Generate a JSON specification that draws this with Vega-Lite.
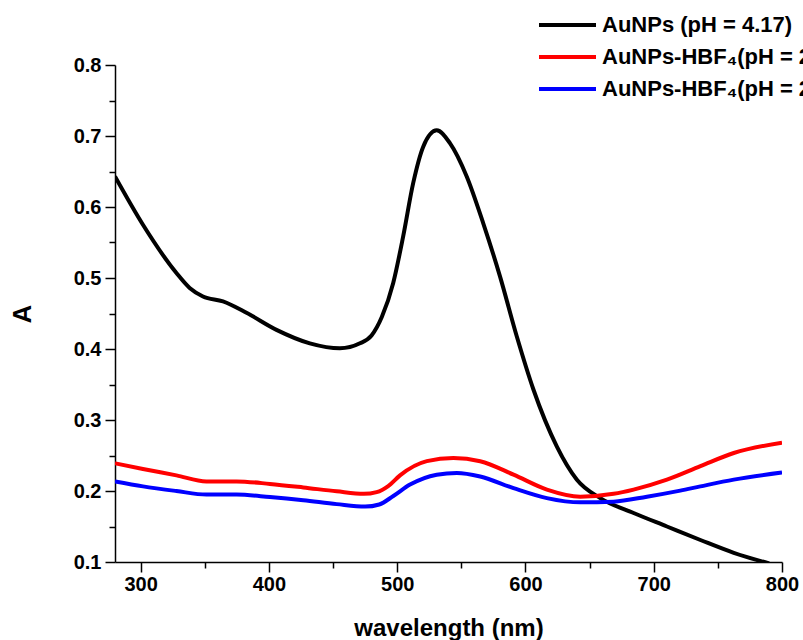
{
  "$schema": "https://vega.github.io/schema/vega-lite/v6.json",
  "width": 667,
  "height": 497,
  "autosize": {"type": "none"},
  "padding": {"left": 115, "top": 65, "right": 21, "bottom": 78},
  "background": "white",
  "config": {
    "view": {"stroke": null},
    "font": "Liberation Sans"
  },
  "data": {
    "values": [
      {"s": "AuNPs (pH = 4.17)", "wl": 280, "A": 0.643},
      {"s": "AuNPs (pH = 4.17)", "wl": 301.8, "A": 0.575},
      {"s": "AuNPs (pH = 4.17)", "wl": 327.9, "A": 0.507},
      {"s": "AuNPs (pH = 4.17)", "wl": 338.2, "A": 0.486},
      {"s": "AuNPs (pH = 4.17)", "wl": 348.6, "A": 0.474},
      {"s": "AuNPs (pH = 4.17)", "wl": 364.2, "A": 0.467},
      {"s": "AuNPs (pH = 4.17)", "wl": 382.5, "A": 0.451},
      {"s": "AuNPs (pH = 4.17)", "wl": 405.9, "A": 0.427},
      {"s": "AuNPs (pH = 4.17)", "wl": 431.9, "A": 0.408},
      {"s": "AuNPs (pH = 4.17)", "wl": 455.3, "A": 0.401},
      {"s": "AuNPs (pH = 4.17)", "wl": 471, "A": 0.408},
      {"s": "AuNPs (pH = 4.17)", "wl": 480, "A": 0.419},
      {"s": "AuNPs (pH = 4.17)", "wl": 488, "A": 0.445},
      {"s": "AuNPs (pH = 4.17)", "wl": 496.9, "A": 0.493},
      {"s": "AuNPs (pH = 4.17)", "wl": 504.7, "A": 0.559},
      {"s": "AuNPs (pH = 4.17)", "wl": 512.5, "A": 0.634},
      {"s": "AuNPs (pH = 4.17)", "wl": 520.3, "A": 0.685},
      {"s": "AuNPs (pH = 4.17)", "wl": 530.8, "A": 0.708},
      {"s": "AuNPs (pH = 4.17)", "wl": 541.1, "A": 0.69},
      {"s": "AuNPs (pH = 4.17)", "wl": 554.2, "A": 0.643},
      {"s": "AuNPs (pH = 4.17)", "wl": 567.1, "A": 0.577},
      {"s": "AuNPs (pH = 4.17)", "wl": 580.2, "A": 0.502},
      {"s": "AuNPs (pH = 4.17)", "wl": 593.2, "A": 0.418},
      {"s": "AuNPs (pH = 4.17)", "wl": 606.2, "A": 0.343},
      {"s": "AuNPs (pH = 4.17)", "wl": 624.4, "A": 0.263},
      {"s": "AuNPs (pH = 4.17)", "wl": 640.1, "A": 0.216},
      {"s": "AuNPs (pH = 4.17)", "wl": 658.3, "A": 0.19},
      {"s": "AuNPs (pH = 4.17)", "wl": 684.3, "A": 0.169},
      {"s": "AuNPs (pH = 4.17)", "wl": 710.3, "A": 0.15},
      {"s": "AuNPs (pH = 4.17)", "wl": 736.4, "A": 0.131},
      {"s": "AuNPs (pH = 4.17)", "wl": 762.4, "A": 0.113},
      {"s": "AuNPs (pH = 4.17)", "wl": 790, "A": 0.098},
      {"s": "AuNPs-HBF₄(pH = 2.50)", "wl": 280, "A": 0.239},
      {"s": "AuNPs-HBF₄(pH = 2.50)", "wl": 301.8, "A": 0.231},
      {"s": "AuNPs-HBF₄(pH = 2.50)", "wl": 327.9, "A": 0.222},
      {"s": "AuNPs-HBF₄(pH = 2.50)", "wl": 351.3, "A": 0.2135},
      {"s": "AuNPs-HBF₄(pH = 2.50)", "wl": 374.7, "A": 0.2135},
      {"s": "AuNPs-HBF₄(pH = 2.50)", "wl": 400.8, "A": 0.21},
      {"s": "AuNPs-HBF₄(pH = 2.50)", "wl": 426.8, "A": 0.205},
      {"s": "AuNPs-HBF₄(pH = 2.50)", "wl": 452.8, "A": 0.1995},
      {"s": "AuNPs-HBF₄(pH = 2.50)", "wl": 474, "A": 0.196},
      {"s": "AuNPs-HBF₄(pH = 2.50)", "wl": 484, "A": 0.1985},
      {"s": "AuNPs-HBF₄(pH = 2.50)", "wl": 493, "A": 0.207},
      {"s": "AuNPs-HBF₄(pH = 2.50)", "wl": 502.2, "A": 0.222},
      {"s": "AuNPs-HBF₄(pH = 2.50)", "wl": 523.1, "A": 0.242},
      {"s": "AuNPs-HBF₄(pH = 2.50)", "wl": 543.8, "A": 0.2465},
      {"s": "AuNPs-HBF₄(pH = 2.50)", "wl": 564.7, "A": 0.242},
      {"s": "AuNPs-HBF₄(pH = 2.50)", "wl": 590.7, "A": 0.223},
      {"s": "AuNPs-HBF₄(pH = 2.50)", "wl": 616.7, "A": 0.202},
      {"s": "AuNPs-HBF₄(pH = 2.50)", "wl": 642.7, "A": 0.192},
      {"s": "AuNPs-HBF₄(pH = 2.50)", "wl": 668.7, "A": 0.196},
      {"s": "AuNPs-HBF₄(pH = 2.50)", "wl": 684.3, "A": 0.202},
      {"s": "AuNPs-HBF₄(pH = 2.50)", "wl": 710.3, "A": 0.216},
      {"s": "AuNPs-HBF₄(pH = 2.50)", "wl": 736.4, "A": 0.235},
      {"s": "AuNPs-HBF₄(pH = 2.50)", "wl": 762.4, "A": 0.2535},
      {"s": "AuNPs-HBF₄(pH = 2.50)", "wl": 800, "A": 0.268},
      {"s": "AuNPs-HBF₄(pH = 2.00)", "wl": 280, "A": 0.2135},
      {"s": "AuNPs-HBF₄(pH = 2.00)", "wl": 301.8, "A": 0.2065},
      {"s": "AuNPs-HBF₄(pH = 2.00)", "wl": 327.9, "A": 0.2},
      {"s": "AuNPs-HBF₄(pH = 2.00)", "wl": 351.3, "A": 0.195},
      {"s": "AuNPs-HBF₄(pH = 2.00)", "wl": 374.7, "A": 0.195},
      {"s": "AuNPs-HBF₄(pH = 2.00)", "wl": 400.8, "A": 0.1915},
      {"s": "AuNPs-HBF₄(pH = 2.00)", "wl": 426.8, "A": 0.187},
      {"s": "AuNPs-HBF₄(pH = 2.00)", "wl": 452.8, "A": 0.1815},
      {"s": "AuNPs-HBF₄(pH = 2.00)", "wl": 475, "A": 0.178},
      {"s": "AuNPs-HBF₄(pH = 2.00)", "wl": 486, "A": 0.181},
      {"s": "AuNPs-HBF₄(pH = 2.00)", "wl": 497, "A": 0.193},
      {"s": "AuNPs-HBF₄(pH = 2.00)", "wl": 510, "A": 0.209},
      {"s": "AuNPs-HBF₄(pH = 2.00)", "wl": 530.8, "A": 0.223},
      {"s": "AuNPs-HBF₄(pH = 2.00)", "wl": 546.5, "A": 0.2255},
      {"s": "AuNPs-HBF₄(pH = 2.00)", "wl": 564.7, "A": 0.2205},
      {"s": "AuNPs-HBF₄(pH = 2.00)", "wl": 590.7, "A": 0.204},
      {"s": "AuNPs-HBF₄(pH = 2.00)", "wl": 616.7, "A": 0.19},
      {"s": "AuNPs-HBF₄(pH = 2.00)", "wl": 642.7, "A": 0.184},
      {"s": "AuNPs-HBF₄(pH = 2.00)", "wl": 668.7, "A": 0.185},
      {"s": "AuNPs-HBF₄(pH = 2.00)", "wl": 694.7, "A": 0.192},
      {"s": "AuNPs-HBF₄(pH = 2.00)", "wl": 720.7, "A": 0.2005},
      {"s": "AuNPs-HBF₄(pH = 2.00)", "wl": 736.4, "A": 0.2065},
      {"s": "AuNPs-HBF₄(pH = 2.00)", "wl": 762.4, "A": 0.216},
      {"s": "AuNPs-HBF₄(pH = 2.00)", "wl": 800, "A": 0.226}
    ]
  },
  "mark": {"type": "line", "strokeWidth": 4, "interpolate": "monotone", "clip": true},
  "encoding": {
    "x": {
      "field": "wl", "type": "quantitative",
      "scale": {"domain": [280, 800], "nice": false, "zero": false},
      "axis": {
        "title": "wavelength (nm)",
        "values": [300, 350, 400, 450, 500, 550, 600, 650, 700, 750, 800],
        "labelExpr": "datum.value % 100 === 0 ? datum.label : ''",
        "tickSize": {"condition": {"test": "datum.value % 100 === 0", "value": 10}, "value": 6},
        "grid": false,
        "domainColor": "black", "domainWidth": 1.5,
        "tickColor": "black", "tickWidth": 1.5,
        "labelFont": "Liberation Sans", "labelFontWeight": "bold", "labelFontSize": 20, "labelColor": "black",
        "labelPadding": 2, "labelFlush": false,
        "titleFont": "Liberation Sans", "titleFontWeight": "bold", "titleFontSize": 24, "titleColor": "black",
        "titlePadding": 22
      }
    },
    "y": {
      "field": "A", "type": "quantitative",
      "scale": {"domain": [0.1, 0.8], "nice": false, "zero": false},
      "axis": {
        "title": "A",
        "values": [0.1, 0.15, 0.2, 0.25, 0.3, 0.35, 0.4, 0.45, 0.5, 0.55, 0.6, 0.65, 0.7, 0.75, 0.8],
        "format": ".1f",
        "labelExpr": "round(datum.value * 100) % 10 === 0 ? datum.label : ''",
        "tickSize": {"condition": {"test": "round(datum.value * 100) % 10 === 0", "value": 10}, "value": 6},
        "grid": false,
        "domainColor": "black", "domainWidth": 1.5,
        "tickColor": "black", "tickWidth": 1.5,
        "labelFont": "Liberation Sans", "labelFontWeight": "bold", "labelFontSize": 20, "labelColor": "black",
        "labelPadding": 4, "labelFlush": false,
        "titleFont": "Liberation Sans", "titleFontWeight": "bold", "titleFontSize": 26, "titleColor": "black",
        "titlePadding": 38
      }
    },
    "color": {
      "field": "s", "type": "nominal",
      "scale": {
        "domain": ["AuNPs (pH = 4.17)", "AuNPs-HBF₄(pH = 2.50)", "AuNPs-HBF₄(pH = 2.00)"],
        "range": ["#000000", "#ff0000", "#0000ff"]
      },
      "legend": {
        "title": null,
        "orient": "none",
        "legendX": 422,
        "legendY": -52,
        "symbolType": "stroke",
        "symbolSize": 3249,
        "symbolStrokeWidth": 4,
        "labelFont": "Liberation Sans", "labelFontWeight": "bold", "labelFontSize": 22, "labelColor": "black",
        "labelOffset": 4,
        "labelLimit": 400,
        "clipHeight": 24,
        "rowPadding": 8,
        "padding": 0
      }
    }
  }
}
